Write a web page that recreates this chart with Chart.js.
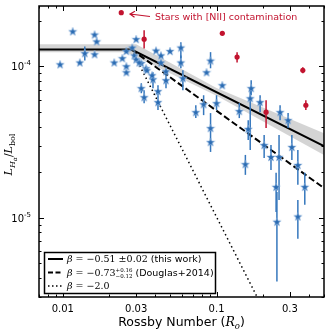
<!DOCTYPE html>
<html>
<head>
<meta charset="utf-8">
<script src="https://cdn.jsdelivr.net/npm/chart.js@4.4.0/dist/chart.umd.min.js"></script>
<style>
  html, body { margin: 0; padding: 0; background: #fff; }
  canvas { display: block; }
</style>
</head>
<body>
<canvas id="chart" width="330" height="330"></canvas>
<script>
// Halpha activity vs Rossby number

// blue stars (Ro, LHa/Lbol, error bar low/high; null = no visible bar)
const starRo = [0.0096, 0.0116, 0.0129, 0.0139, 0.0161, 0.0166, 0.0161, 0.0216, 0.0244, 0.0259,
  0.0259, 0.0259, 0.0283, 0.0300, 0.0292, 0.0300, 0.0324, 0.0338, 0.0324, 0.0348,
  0.0386, 0.0416, 0.0416, 0.0469, 0.0404, 0.0435, 0.0469, 0.0498, 0.0586, 0.0586,
  0.0604, 0.0352, 0.0381, 0.0314, 0.0435, 0.0914, 0.0861, 0.109, 0.0733, 0.0824,
  0.100, 0.0914, 0.0914, 0.1406, 0.168, 0.1656, 0.192, 0.1607, 0.259, 0.292,
  0.309, 0.204, 0.226, 0.255, 0.154, 0.338, 0.244, 0.247, 0.338, 0.375];
const starLum = [1.03e-4, 1.70e-4, 1.06e-4, 1.22e-4, 1.62e-4, 1.46e-4, 1.20e-4, 1.06e-4, 1.13e-4, 1.00e-4,
  9.13e-5, 1.26e-4, 1.33e-4, 1.51e-4, 1.18e-4, 1.11e-4, 7.17e-5, 6.25e-5, 1.05e-4, 9.70e-5,
  8.21e-5, 6.85e-5, 5.80e-5, 8.09e-5, 1.27e-4, 1.18e-4, 9.27e-5, 1.26e-4, 1.33e-4, 1.06e-4,
  8.34e-5, 9.41e-5, 8.72e-5, 1.06e-4, 1.06e-4, 1.09e-4, 9.13e-5, 7.50e-5, 4.98e-5, 5.62e-5,
  5.71e-5, 3.91e-5, 3.16e-5, 5.06e-5, 7.17e-5, 6.15e-5, 5.80e-5, 3.86e-5, 4.98e-5, 4.41e-5,
  2.93e-5, 3.02e-5, 2.52e-5, 2.52e-5, 2.26e-5, 2.23e-5, 1.60e-5, 9.42e-6, 1.02e-5, 1.60e-5];
const starErrLo = [null, null, null, 1.09e-4, null, null, null, null, null, null,
  null, null, null, null, null, null, 6.64e-5, 5.71e-5, null, null,
  7.17e-5, 6.44e-5, 5.14e-5, 7.17e-5, null, null, null, null, 1.13e-4, 9.70e-5,
  6.95e-5, null, null, null, null, 9.70e-5, null, null, 4.55e-5, 4.76e-5,
  5.14e-5, 2.72e-5, null, 4.55e-5, 6.44e-5, 2.80e-5, 4.98e-5, 3.26e-5, 4.41e-5, 3.91e-5,
  2.41e-5, 2.48e-5, 2.07e-5, 1.31e-5, 1.92e-5, 1.65e-5, 1.09e-5, 3.79e-6, 7.28e-6, 1.22e-5];
const starErrHi = [null, null, null, 1.35e-4, null, null, null, null, null, null,
  null, null, null, null, null, null, 7.73e-5, 6.95e-5, null, null,
  9.13e-5, 7.50e-5, 6.44e-5, 9.13e-5, null, null, null, null, 1.44e-4, 1.18e-4,
  9.41e-5, null, null, null, null, 1.24e-4, null, null, 5.53e-5, 6.44e-5,
  6.44e-5, 4.91e-5, null, 5.71e-5, 8.09e-5, 7.17e-5, 6.44e-5, 4.41e-5, 5.53e-5, 4.91e-5,
  3.52e-5, 3.52e-5, 3.02e-5, 3.52e-5, 2.60e-5, 2.80e-5, 1.98e-5, 1.48e-5, 1.31e-5, 1.98e-5];

// red points: stars with [NII] contamination
const niiRo = [0.0240, 0.0338, 0.109, 0.136, 0.210, 0.364, 0.381];
const niiLum = [2.26e-4, 1.51e-4, 1.65e-4, 1.15e-4, 4.98e-5, 9.41e-5, 5.53e-5];
const niiErrLo = [null, 1.31e-4, null, 1.06e-4, 3.91e-5, 8.99e-5, 5.14e-5];
const niiErrHi = [null, 1.73e-4, null, 1.24e-4, 5.97e-5, 9.85e-5, 5.97e-5];

// fitted relations as [Ro, LHa/Lbol] vertices
const solidLine = [[0.007, 1.29e-4], [0.028, 1.29e-4], [0.5, 2.97e-5]];
const dashedLine = [[0.028, 1.29e-4], [0.5, 1.57e-5]];
const dottedLine = [[0.028, 1.29e-4], [0.2, 2.53e-6]];
const bandUpper = [[0.007, 1.40e-4], [0.030, 1.40e-4], [0.1, 7.2e-5], [0.5, 3.62e-5]];
const bandLower = [[0.007, 1.24e-4], [0.026, 1.24e-4], [0.1, 6.4e-5], [0.5, 2.60e-5]];

// axis ticks
const xTickValues = [0.01, 0.03, 0.1, 0.3];
const xTickLabels = ['0.01', '0.03', '0.1', '0.3'];
const yTickValues = [1e-5, 1e-4];
const yTickExps = ['-5', '-4'];

const X_MIN = 0.007, X_MAX = 0.5, Y_MIN = 3.0e-6, Y_MAX = 2.5e-4;
const BLUE = '#2b6cb3';
const RED = '#c2132f';
const SANS = '"DejaVu Sans"';
const SERIF = '"DejaVu Serif"';

function xy(list) {
    return list.map(p => ({ x: p[0], y: p[1] }));
}

function points(ro, lum) {
    return ro.map((r, i) => ({ x: r, y: lum[i] }));
}

function makeStar(size, color) {
    const c = document.createElement('canvas');
    c.width = c.height = size;
    const g = c.getContext('2d');
    const cx = size / 2, cy = size / 2 + 0.4;
    const R = size / 2 - 0.6, r = R * 0.42;
    g.beginPath();
    for (let i = 0; i < 10; i++) {
        const a = -Math.PI / 2 + i * Math.PI / 5;
        const rad = i % 2 ? r : R;
        g.lineTo(cx + rad * Math.cos(a), cy + rad * Math.sin(a));
    }
    g.closePath();
    g.fillStyle = color;
    g.fill();
    g.strokeStyle = 'rgba(150,185,225,0.8)';
    g.lineWidth = 0.7;
    g.stroke();
    return c;
}

// draw a row of text pieces with different fonts / offsets
function drawRuns(ctx, x, y, runs, align) {
    ctx.textBaseline = 'alphabetic';
    ctx.textAlign = 'left';
    let total = 0;
    runs.forEach(r => {
        ctx.font = r.f;
        if (r.stack) {
            r.w = Math.max(ctx.measureText(r.stack[0]).width, ctx.measureText(r.stack[1]).width);
        } else {
            r.w = ctx.measureText(r.t).width;
        }
        total += r.w;
    });
    let cx = align === 'center' ? x - total / 2 : (align === 'right' ? x - total : x);
    runs.forEach(r => {
        ctx.font = r.f;
        if (r.stack) {
            ctx.fillText(r.stack[0], cx, y - 3.5);
            ctx.fillText(r.stack[1], cx, y + 2.5);
        } else {
            ctx.fillText(r.t, cx, y + (r.dy || 0));
        }
        cx += r.w;
    });
    return cx;
}

function logTicks(min, max) {
    const out = [];
    for (let d = Math.floor(Math.log10(min)); d <= Math.ceil(Math.log10(max)); d++) {
        for (let m = 1; m < 10; m++) {
            const v = m * Math.pow(10, d);
            if (v >= min && v <= max) out.push(v);
        }
    }
    return out;
}

const errorBars = {
    id: 'errorBars',
    beforeDatasetDraw(chart, args) {
        const ds = chart.data.datasets[args.index];
        if (!ds.errLo) return;
        const ctx = chart.ctx;
        const xs = chart.scales.x, ys = chart.scales.y;
        ctx.save();
        ctx.strokeStyle = ds.errColor;
        ctx.lineWidth = 1.5;
        ds.data.forEach((p, i) => {
            if (ds.errLo[i] == null) return;
            const px = xs.getPixelForValue(p.x);
            ctx.beginPath();
            ctx.moveTo(px, ys.getPixelForValue(ds.errLo[i]));
            ctx.lineTo(px, ys.getPixelForValue(ds.errHi[i]));
            ctx.stroke();
        });
        ctx.restore();
    }
};

const decorations = {
    id: 'decorations',
    afterDraw(chart) {
        const ctx = chart.ctx;
        const a = chart.chartArea;
        const xs = chart.scales.x, ys = chart.scales.y;
        ctx.save();

        // ticks, inward on all four sides
        ctx.strokeStyle = '#000';
        ctx.lineWidth = 1;
        const xMajor = xTickValues;
        logTicks(X_MIN, X_MAX).concat(xMajor).forEach(v => {
            const len = xMajor.some(m => Math.abs(m - v) < 1e-9) ? 5 : 2.5;
            const px = Math.round(xs.getPixelForValue(v)) + 0.5;
            ctx.beginPath();
            ctx.moveTo(px, a.bottom); ctx.lineTo(px, a.bottom - len);
            ctx.moveTo(px, a.top); ctx.lineTo(px, a.top + len);
            ctx.stroke();
        });
        logTicks(Y_MIN, Y_MAX).forEach(v => {
            const len = yTickValues.some(m => Math.abs(m - v) < 1e-12) ? 5 : 2.5;
            const py = Math.round(ys.getPixelForValue(v)) + 0.5;
            ctx.beginPath();
            ctx.moveTo(a.left, py); ctx.lineTo(a.left + len, py);
            ctx.moveTo(a.right, py); ctx.lineTo(a.right - len, py);
            ctx.stroke();
        });

        // frame
        ctx.lineWidth = 1.5;
        ctx.strokeRect(a.left, a.top, a.right - a.left, a.bottom - a.top);

        // tick labels
        ctx.fillStyle = '#000';
        ctx.font = '10px ' + SANS;
        ctx.textAlign = 'center';
        ctx.textBaseline = 'middle';
        xTickValues.forEach((v, i) => {
            ctx.fillText(xTickLabels[i], xs.getPixelForValue(v), a.bottom + 12);
        });
        yTickValues.forEach((v, i) => {
            const py = ys.getPixelForValue(v);
            drawRuns(ctx, a.left - 8, py + 4, [
                { t: '10', f: '10px ' + SANS },
                { t: yTickExps[i], f: '7px ' + SANS, dy: -5 }
            ], 'right');
        });

        // axis titles
        drawRuns(ctx, (a.left + a.right) / 2, 326, [
            { t: 'Rossby Number (', f: '12.5px ' + SANS },
            { t: 'R', f: 'italic 12.5px ' + SERIF },
            { t: 'o', f: 'italic 8.5px ' + SERIF, dy: 2.5 },
            { t: ')', f: '12.5px ' + SANS }
        ], 'center');

        ctx.save();
        ctx.translate(12, (a.top + a.bottom) / 2 + 3);
        ctx.rotate(-Math.PI / 2);
        drawRuns(ctx, 0, 0, [
            { t: 'L', f: 'italic 11px ' + SERIF },
            { t: 'H', f: 'italic 8px ' + SERIF, dy: 2.5 },
            { t: 'α', f: 'italic 6px ' + SERIF, dy: 4.5 },
            { t: '/', f: '11px ' + SERIF },
            { t: 'L', f: 'italic 11px ' + SERIF },
            { t: 'bol', f: '8px ' + SERIF, dy: 2.5 }
        ], 'center');
        ctx.restore();

        // annotation for the red points
        ctx.strokeStyle = RED;
        ctx.fillStyle = RED;
        ctx.lineWidth = 1.2;
        ctx.beginPath();
        ctx.moveTo(150, 16.5);
        ctx.lineTo(130, 14);
        ctx.moveTo(135, 11.3);
        ctx.lineTo(130, 14);
        ctx.lineTo(134.5, 17.2);
        ctx.stroke();
        ctx.font = '9.5px ' + SANS;
        ctx.textAlign = 'left';
        ctx.textBaseline = 'middle';
        ctx.fillText('Stars with [NII] contamination', 155, 18);

        // legend
        const lx = 44.5, ly = 252.5, lw = 171, lh = 41;
        ctx.fillStyle = '#fff';
        ctx.fillRect(lx, ly, lw, lh);
        ctx.strokeStyle = '#000';
        ctx.lineWidth = 1.5;
        ctx.strokeRect(lx, ly, lw, lh);
        const rows = [259, 272.5, 286];
        const styles = [[], [5, 2.5], [1.5, 2.5]];
        const widths = [2, 2, 1.5];
        rows.forEach((ry, i) => {
            ctx.beginPath();
            ctx.setLineDash(styles[i]);
            ctx.lineWidth = widths[i];
            ctx.moveTo(48, ry); ctx.lineTo(63, ry);
            ctx.stroke();
        });
        ctx.setLineDash([]);
        ctx.fillStyle = '#000';
        const mathF = '9.5px ' + SERIF;
        const betaF = 'italic 9.5px ' + SERIF;
        const txtF = '9.5px ' + SANS;
        drawRuns(ctx, 67, rows[0] + 3, [
            { t: 'β', f: betaF }, { t: ' = −0.51 ±0.02', f: mathF }, { t: ' (this work)', f: txtF }
        ]);
        drawRuns(ctx, 67, rows[1] + 3, [
            { t: 'β', f: betaF }, { t: ' = −0.73', f: mathF },
            { stack: ['+0.16', '−0.12'], f: '5.5px ' + SERIF }, { t: ' (Douglas+2014)', f: txtF }
        ]);
        drawRuns(ctx, 67, rows[2] + 3, [
            { t: 'β', f: betaF }, { t: ' = −2.0', f: mathF }
        ]);
        ctx.restore();
    }
};

const starImg = makeStar(10, BLUE);

new Chart(document.getElementById('chart'), {
    type: 'line',
    data: {
        datasets: [
            {
                data: xy(bandUpper), borderWidth: 0, pointRadius: 0, tension: 0,
                fill: '+1', backgroundColor: 'rgba(170,170,170,0.5)', order: 10
            },
            {
                data: xy(bandLower), borderWidth: 0, pointRadius: 0, tension: 0,
                fill: false, order: 10
            },
            {
                data: xy(dottedLine), borderColor: '#000', borderWidth: 1.5,
                borderDash: [1.5, 3], pointRadius: 0, fill: false, order: 6
            },
            {
                data: xy(dashedLine), borderColor: '#000', borderWidth: 2,
                borderDash: [6.5, 3], pointRadius: 0, fill: false, order: 5
            },
            {
                data: xy(solidLine), borderColor: '#000', borderWidth: 2,
                pointRadius: 0, fill: false, order: 4
            },
            {
                data: points(starRo, starLum), showLine: false,
                pointStyle: starImg, pointRadius: 5,
                errLo: starErrLo, errHi: starErrHi, errColor: '#3577bd', order: 2
            },
            {
                data: points(niiRo, niiLum), showLine: false,
                pointStyle: 'circle', pointRadius: 2.6, backgroundColor: RED,
                borderWidth: 0, errLo: niiErrLo, errHi: niiErrHi, errColor: RED, order: 1
            }
        ]
    },
    options: {
        responsive: false,
        animation: false,
        devicePixelRatio: 1,
        layout: { padding: { left: 39, right: 4, top: 5, bottom: 33 } },
        plugins: { legend: { display: false }, tooltip: { enabled: false } },
        scales: {
            x: { type: 'logarithmic', min: X_MIN, max: X_MAX, display: false },
            y: { type: 'logarithmic', min: Y_MIN, max: Y_MAX, display: false }
        }
    },
    plugins: [errorBars, decorations]
});
</script>
</body>
</html>
